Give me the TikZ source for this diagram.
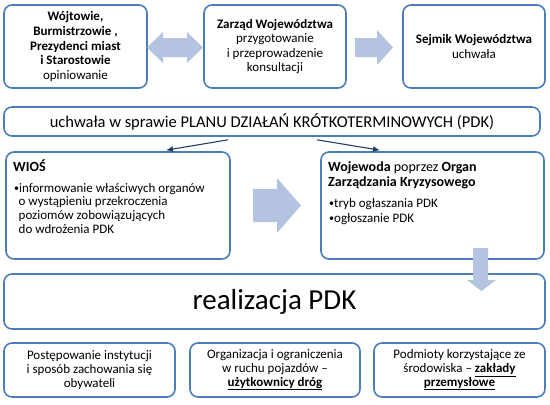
\documentclass[tikz,border=0pt]{standalone}
\usepackage{fontspec}
\setmainfont{Carlito}
\usepackage{tikz}
\usetikzlibrary{arrows.meta}
\definecolor{boxblue}{HTML}{4A7EBB}
\definecolor{arrowblue}{HTML}{B4C4E0}
\definecolor{linkblue}{HTML}{243F60}
\newcommand{\smallbullet}{\raisebox{0.8pt}{\fontsize{10}{10}\selectfont\textbullet}}

\begin{document}
\begin{tikzpicture}[x=1pt,y=-1pt,
	roundbox/.style={draw=boxblue, line width=1.6pt, rounded corners=8pt, fill=white, inner sep=0pt, align=center},
	link/.style={draw=linkblue, line width=1.1pt, -{Latex[length=7pt,width=6pt]}},
	smalltext/.style={font=\fontsize{13}{13.7}\selectfont},
	toptext/.style={font=\fontsize{13}{14.6}\selectfont},
	headtext/.style={font=\fontsize{14}{15}\selectfont\bfseries}]
	\useasboundingbox (0,0) rectangle (550,405);
	% Top Row %
	\node [roundbox, toptext, minimum width=143pt, minimum height=83pt] (wojt) at (75.5,46.5) {\textbf{Wójtowie,}\\ \textbf{Burmistrzowie ,}\\ \textbf{Prezydenci miast}\\ \textbf{i Starostowie}\\ opiniowanie};
	\node [roundbox, toptext, minimum width=142pt, minimum height=83pt] (zarzad) at (275,46.5) {\textbf{Zarząd Województwa}\\ przygotowanie\\ i przeprowadzenie\\ konsultacji};
	\node [roundbox, toptext, minimum width=142pt, minimum height=83pt] (sejmik) at (474,46.5) {\textbf{Sejmik Województwa}\\ uchwała};
	% Resolution Bar %
	\node [roundbox, font=\fontsize{16.5}{18}\selectfont, minimum width=536pt, minimum height=29pt] (uchwala) at (272,121.5) {uchwała w sprawie PLANU DZIAŁAŃ KRÓTKOTERMINOWYCH (PDK)};
	% Middle Boxes %
	\node [roundbox, minimum width=224pt, minimum height=107pt] (wios) at (118,205.5) {};
	\node [headtext, anchor=base west, inner sep=0pt] (wiostitle) at (13,171) {WIOŚ};
	\node [smalltext, anchor=base west, inner sep=0pt, align=left] (wiostext) at (14,233.1) {\smallbullet informowanie właściwych organów\\ \hspace*{4.5pt}o wystąpieniu przekroczenia\\ \hspace*{4.5pt}poziomów zobowiązujących\\ \hspace*{4.5pt}do wdrożenia PDK};
	\node [roundbox, minimum width=223pt, minimum height=107pt] (woj) at (432.5,205.5) {};
	\node [headtext, anchor=base west, inner sep=0pt, align=left] (wojtitle) at (328,186) {Wojewoda \textmd{poprzez} Organ\\ Zarządzania Kryzysowego};
	\node [smalltext, anchor=base west, inner sep=0pt, align=left] (wojtext) at (329,222) {\smallbullet tryb ogłaszania PDK\\[1.3pt] \smallbullet ogłoszanie PDK};
	% Realization %
	\node [roundbox, font=\fontsize{29}{32}\selectfont, minimum width=541pt, minimum height=55pt] (realiz) at (274.5,301.5) {realizacja PDK};
	% Bottom Boxes %
	\node [roundbox, smalltext, minimum width=171pt, minimum height=54pt] (postep) at (89.5,370) {Postępowanie instytucji\\ i sposób zachowania się\\ obywateli};
	\node [roundbox, smalltext, minimum width=170pt, minimum height=54pt] (organiz) at (275,370) {Organizacja i ograniczenia\\ w ruchu pojazdów --\\ \underline{\textbf{użytkownicy dróg}}};
	\node [roundbox, smalltext, minimum width=171pt, minimum height=54pt] (podmioty) at (459.5,370) {Podmioty korzystające ze\\ środowiska -- \underline{\textbf{zakłady}}\\ \underline{\textbf{przemysłowe}}};
	% Block Arrows %
	\fill [arrowblue] (147,47.5) -- (163,32) -- (163,38) -- (187,38) -- (187,32) -- (203,47.5) -- (187,63) -- (187,57) -- (163,57) -- (163,63) -- cycle;
	\fill [arrowblue] (355,38) -- (377,38) -- (377,30) -- (393,47.5) -- (377,65) -- (377,57) -- (355,57) -- cycle;
	\fill [arrowblue] (253,189) -- (277,189) -- (277,178) -- (301,205.5) -- (277,233) -- (277,222) -- (253,222) -- cycle;
	\fill [arrowblue] (473,248) -- (488,248) -- (488,280) -- (496,280) -- (481.5,291) -- (467,280) -- (473,280) -- cycle;
	% Links %
	\draw [link] ([xshift=-44pt,yshift=-3pt]uchwala.south) -- ([xshift=48pt,yshift=1pt]wios.north);
	\draw [link] ([xshift=45pt,yshift=-3pt]uchwala.south) -- ([xshift=-52.5pt,yshift=1pt]woj.north);
\end{tikzpicture}
\end{document}
